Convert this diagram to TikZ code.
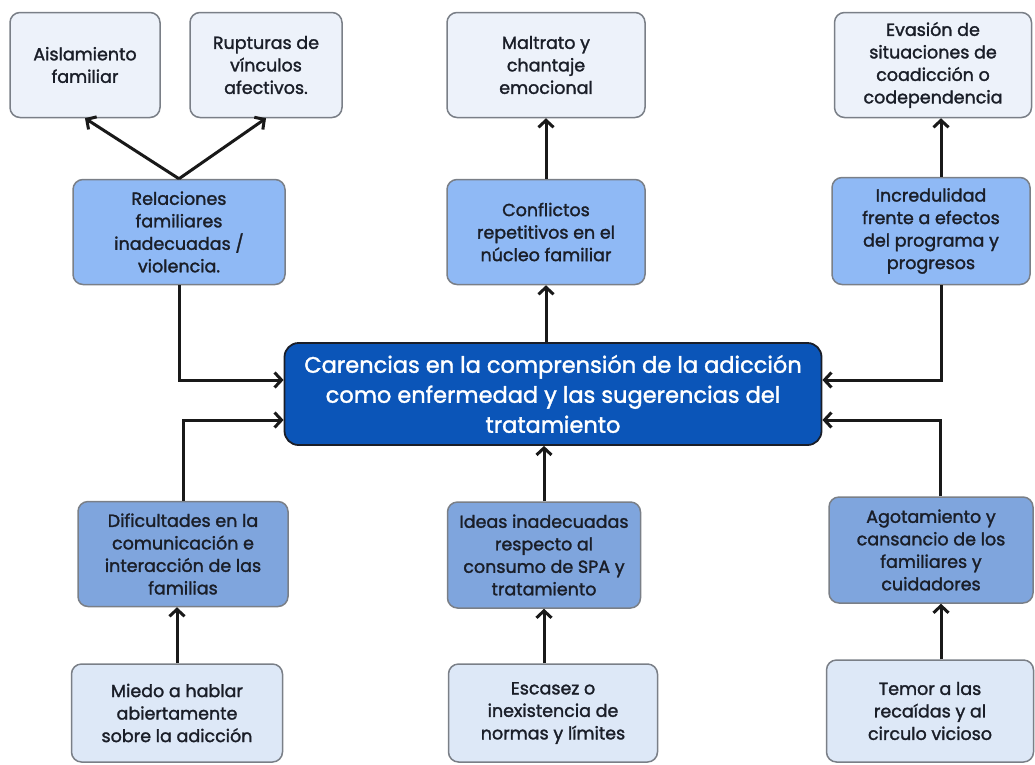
\documentclass[tikz,border=0pt]{standalone}
\usepackage{fontspec}
\setmainfont{Poppins}[FakeBold=1.6]
\usepackage{tikz}
\usetikzlibrary{positioning}
\usetikzlibrary{calc}
\usetikzlibrary{arrows.meta}

\definecolor{pale}{HTML}{EDF2FA}
\definecolor{palelow}{HTML}{DDE8F7}
\definecolor{midtop}{HTML}{8FB9F5}
\definecolor{midlow}{HTML}{7FA5DD}
\definecolor{hubfill}{HTML}{0B55B8}
\definecolor{edge}{HTML}{7A7F87}
\definecolor{ink}{HTML}{1A1E28}

\tikzset{
  box/.style={draw=edge, line width=1.5pt, rounded corners=10pt, align=center,
    text=ink, font=\fontsize{17.5}{22.5}\selectfont, inner sep=1pt},
  palebox/.style={box, fill=pale},
  lowbox/.style={box, fill=palelow},
  topbox/.style={box, fill=midtop},
  midbox/.style={box, fill=midlow},
  hubbox/.style={draw=ink, line width=1.8pt, rounded corners=14pt, align=center,
    fill=hubfill, text=white, font=\fontsize{22.5}{30}\selectfont, inner sep=1pt},
  arr/.style={line width=3pt, draw=black!90, -{Straight Barb[length=7pt,width=15pt,line width=3pt]}}
}

\begin{document}
\begin{tikzpicture}[x=1pt,y=-1pt]
  \useasboundingbox (0,0) rectangle (1035,764);

  % top row
  \node[palebox, minimum width=150pt, minimum height=105pt] (ais) at (85,65) {Aislamiento\\familiar};
  \node[palebox, minimum width=152pt, minimum height=105pt] (rup) at (266,65) {Rupturas de\\vínculos\\afectivos.};
  \node[palebox, minimum width=198pt, minimum height=105pt] (mal) at (546,65) {Maltrato y\\chantaje\\emocional};
  \node[palebox, minimum width=197pt, minimum height=105pt] (eva) at (933,65) {Evasión de\\situaciones de\\coadicción o\\codependencia};

  % second row
  \node[topbox, minimum width=212pt, minimum height=105pt] (rel) at (179,232) {Relaciones\\familiares\\inadecuadas /\\violencia.};
  \node[topbox, minimum width=198pt, minimum height=105pt] (con) at (546,232) {Conflictos\\repetitivos en el\\núcleo familiar};
  \node[topbox, minimum width=198pt, minimum height=107pt] (inc) at (931,231) {Incredulidad\\frente a efectos\\del programa y\\progresos};

  % centre
  \node[hubbox, minimum width=537pt, minimum height=102pt] (hub) at (553,394)
    {Carencias en la comprensión de la adicción\\como enfermedad y las sugerencias del\\tratamiento};

  % fourth row
  \node[midbox, minimum width=210pt, minimum height=105pt] (dif) at (183,554) {Dificultades en la\\comunicación e\\interacción de las\\familias};
  \node[midbox, minimum width=193pt, minimum height=106pt] (ide) at (544,555) {Ideas inadecuadas\\respecto al\\consumo de SPA y\\tratamiento};
  \node[midbox, minimum width=204pt, minimum height=106pt] (ago) at (931,550) {Agotamiento y\\cansancio de los\\familiares y\\cuidadores};

  % bottom row
  \node[lowbox, minimum width=211pt, minimum height=98pt] (mie) at (177,713) {Miedo a hablar\\abiertamente\\sobre la adicción};
  \node[lowbox, minimum width=209pt, minimum height=98pt] (esc) at (553,713) {Escasez o\\inexistencia de\\normas y límites};
  \node[lowbox, minimum width=207pt, minimum height=102pt] (tem) at (930,711) {Temor a las\\recaídas y al\\circulo vicioso};

  \draw[arr] (rel.north) -- (ais.south);
  \draw[arr] (rel.north) -- (rup.south);
  \draw[arr] (rel.south) |- ([yshift=14pt]hub.west);
  \draw[arr] (dif.north) |- ([yshift=-26pt]hub.west);
  \draw[arr] ([xshift=-7pt]hub.north) -- ([xshift=-7pt]hub.north |- con.south);
  \draw[arr] (con.north) -- (mal.south);
  \draw[arr] ([xshift=10pt]inc.north) -- ([xshift=10pt]inc.north |- eva.south);
  \draw[arr] ([xshift=10pt]inc.south) |- ([yshift=14pt]hub.east);
  \draw[arr] ([xshift=9pt]ago.north) |- ([yshift=-26pt]hub.east);
  \draw[arr] (ide.north) -- (ide.north |- hub.south);
  \draw[arr] (mie.north) -- (mie.north |- dif.south);
  \draw[arr] (ide.south |- esc.north) -- (ide.south);
  \draw[arr] ([xshift=10pt]ago.south |- tem.north) -- ([xshift=10pt]ago.south);
\end{tikzpicture}
\end{document}
